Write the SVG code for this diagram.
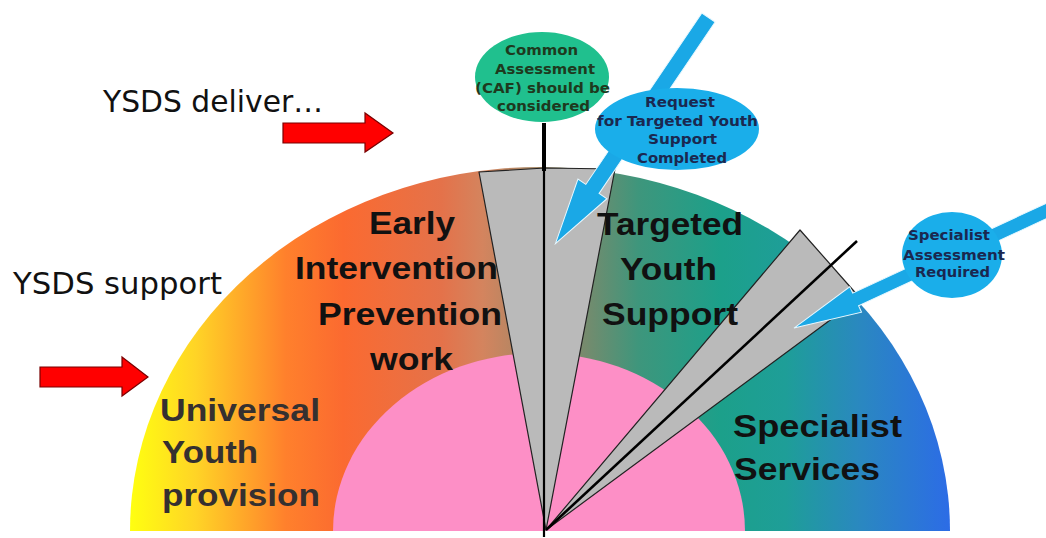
<svg xmlns="http://www.w3.org/2000/svg" width="1046" height="538" viewBox="0 0 1046 538">
  <defs>
    <linearGradient id="bandFill" gradientUnits="userSpaceOnUse" x1="130" y1="0" x2="950" y2="0">
      <stop offset="0" stop-color="#ffff10"/>
      <stop offset="0.08" stop-color="#ffd426"/>
      <stop offset="0.19" stop-color="#ff802c"/>
      <stop offset="0.26" stop-color="#fb6a30"/>
      <stop offset="0.38" stop-color="#e4724a"/>
      <stop offset="0.43" stop-color="#d4845e"/>
      <stop offset="0.55" stop-color="#7a8a6c"/>
      <stop offset="0.62" stop-color="#3e967c"/>
      <stop offset="0.72" stop-color="#1ca08a"/>
      <stop offset="0.80" stop-color="#1e9e98"/>
      <stop offset="0.89" stop-color="#2a88c0"/>
      <stop offset="1" stop-color="#2c6ce6"/>
    </linearGradient>
    <style>
      .big { font-family: "Liberation Sans", Arial, sans-serif; font-weight: bold; font-size: 32px; fill: #111; }
      .big.soft { fill: #353030; }
      .small { font-family: "DejaVu Sans", Verdana, sans-serif; font-weight: bold; font-size: 14px; }
      .lead { font-family: "DejaVu Sans", Verdana, sans-serif; font-size: 31px; fill: #111; }
      .wedge { fill: #bababa; stroke: #222; stroke-width: 1.2; stroke-linejoin: round; }
      .pointer { fill: #1aa8e6; stroke: #e8f8ff; stroke-width: 1; }
      .push { fill: #ff0000; stroke: #7a0000; stroke-width: 1.2; }
      .bar { stroke: #000; fill: none; }
    </style>
  </defs>

  <!-- outer band and inner core -->
  <g id="band">
    <path d="M130,531 A410,364 0 0 1 950,531 Z" fill="url(#bandFill)"/>
    <path d="M333,531 A206,178 0 0 1 745,531 Z" fill="#fd8fc6"/>
  </g>

  <g id="early-intervention">
    <text class="big" x="369" y="234" textLength="86" lengthAdjust="spacingAndGlyphs">Early</text>
    <text class="big" x="295" y="279" textLength="203" lengthAdjust="spacingAndGlyphs">Intervention</text>
    <text class="big" x="318" y="325" textLength="184" lengthAdjust="spacingAndGlyphs">Prevention</text>
    <text class="big" x="370" y="370" textLength="83" lengthAdjust="spacingAndGlyphs">work</text>
  </g>

  <g id="universal-youth">
    <text class="big soft" x="160" y="421" textLength="160" lengthAdjust="spacingAndGlyphs">Universal</text>
    <text class="big soft" x="162" y="463" textLength="96" lengthAdjust="spacingAndGlyphs">Youth</text>
    <text class="big soft" x="162" y="506" textLength="158" lengthAdjust="spacingAndGlyphs">provision</text>
  </g>

  <!-- grey threshold wedges -->
  <g id="thresholds">
    <polygon class="wedge" points="546,530 479,172 545,168 615,169"/>
    <polygon class="wedge" points="546,530 800,230 860,298"/>
  </g>

  <g id="connectors">
    <line class="bar" x1="544" y1="123" x2="544" y2="171" stroke-width="4"/>
    <line class="bar" x1="544" y1="169" x2="544" y2="537" stroke-width="2.2"/>
    <line class="bar" x1="546" y1="530" x2="857" y2="241" stroke-width="2.6"/>
    <!-- blue pointers: shaft along +x, tip at x = length -->
    <path class="pointer" transform="translate(708.5,17.5) rotate(124.1)" d="M0,-8 L207,-8 L207,-17.5 L273,0 L207,17.5 L207,8 L0,8 Z"/>
    <path class="pointer" transform="translate(1057,206) rotate(155.1)" d="M0,-7 L222,-7 L222,-14 L290,0 L222,14 L222,7 L0,7 Z"/>
    <!-- red arrows -->
    <polygon class="push" points="283,123 365,123 365,113 393,133 365,152 365,143 283,143"/>
    <polygon class="push" points="40,367 122,367 122,357 148,377 122,396 122,387 40,387"/>
  </g>

  <g id="targeted-youth">
    <text class="big" x="597" y="235" textLength="146" lengthAdjust="spacingAndGlyphs">Targeted</text>
    <text class="big" x="620" y="280" textLength="97" lengthAdjust="spacingAndGlyphs">Youth</text>
    <text class="big" x="602" y="325" textLength="136" lengthAdjust="spacingAndGlyphs">Support</text>
  </g>

  <g id="specialist-services">
    <text class="big" x="733" y="437" textLength="169" lengthAdjust="spacingAndGlyphs">Specialist</text>
    <text class="big" x="734" y="480" textLength="146" lengthAdjust="spacingAndGlyphs">Services</text>
  </g>

  <g id="caf">
    <ellipse cx="542" cy="77" rx="67" ry="45" fill="#20c08e"/>
    <g class="small" fill="#1e3a1e">
      <text x="505" y="55" textLength="73" lengthAdjust="spacingAndGlyphs">Common</text>
      <text x="495" y="74" textLength="100" lengthAdjust="spacingAndGlyphs">Assessment</text>
      <text x="475" y="93" textLength="135" lengthAdjust="spacingAndGlyphs">(CAF) should be</text>
      <text x="497" y="111" textLength="93" lengthAdjust="spacingAndGlyphs">considered</text>
    </g>
  </g>

  <g id="request">
    <ellipse cx="677" cy="129" rx="82" ry="41" fill="#1aaeea"/>
    <g class="small" fill="#1a2850">
      <text x="645" y="107" textLength="70" lengthAdjust="spacingAndGlyphs">Request</text>
      <text x="597" y="126" textLength="161" lengthAdjust="spacingAndGlyphs">for Targeted Youth</text>
      <text x="648" y="144" textLength="69" lengthAdjust="spacingAndGlyphs">Support</text>
      <text x="637" y="163" textLength="90" lengthAdjust="spacingAndGlyphs">Completed</text>
    </g>
  </g>

  <g id="specialist-assessment">
    <ellipse cx="952" cy="255" rx="50" ry="43" fill="#1aaeea"/>
    <g class="small" fill="#1a2850">
      <text x="908" y="240" textLength="82" lengthAdjust="spacingAndGlyphs">Specialist</text>
      <text x="903" y="260" textLength="102" lengthAdjust="spacingAndGlyphs">Assessment</text>
      <text x="915" y="277" textLength="75" lengthAdjust="spacingAndGlyphs">Required</text>
    </g>
  </g>

  <g id="ysds-deliver">
    <text class="lead" x="103" y="112" textLength="220" lengthAdjust="spacingAndGlyphs">YSDS deliver…</text>
  </g>
  <g id="ysds-support">
    <text class="lead" x="13" y="294" textLength="209" lengthAdjust="spacingAndGlyphs">YSDS support</text>
  </g>
</svg>
